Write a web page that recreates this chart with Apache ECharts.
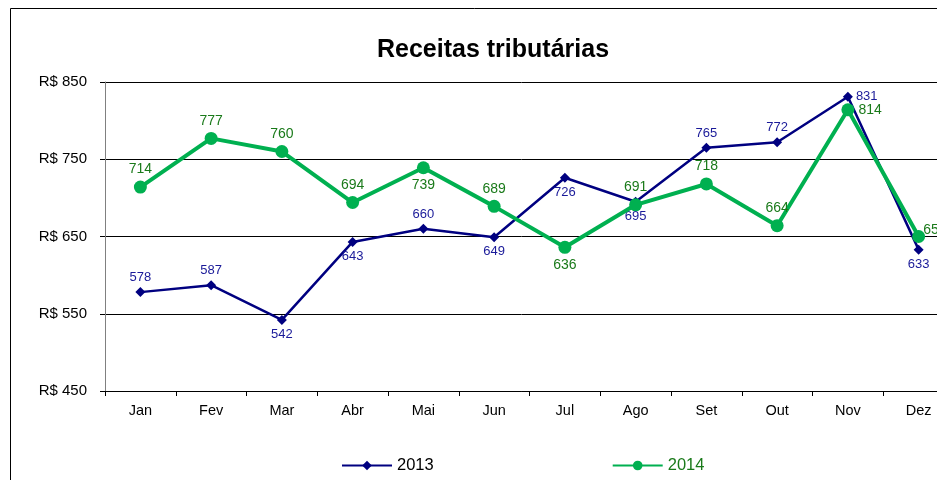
<!DOCTYPE html>
<html>
<head>
<meta charset="utf-8">
<script src="https://cdn.jsdelivr.net/npm/echarts@6/dist/echarts.min.js"></script>
<style>
  html, body { margin: 0; padding: 0; background: #fff; }
  #chart { width: 937px; height: 480px; }
</style>
</head>
<body>
<div id="chart"></div>
<script>
var months = ['Jan', 'Fev', 'Mar', 'Abr', 'Mai', 'Jun', 'Jul', 'Ago', 'Set', 'Out', 'Nov', 'Dez'];
var values2013 = [578, 587, 542, 643, 660, 649, 726, 695, 765, 772, 831, 633];
var values2014 = [714, 777, 760, 694, 739, 689, 636, 691, 718, 664, 814, 650];
var yTicks = [450, 550, 650, 750, 850];

// where each point's label sits
var pos2013 = ['top', 'top', 'bottom', 'bottom', 'top', 'bottom', 'bottom', 'bottom', 'top', 'top', 'right', 'bottom'];
var pos2014 = ['top', 'top', 'top', 'top', 'bottom', 'top', 'bottom', 'top', 'top', 'top', 'right', 'right'];

function withLabels(vals, pos) {
    return vals.map(function (v, i) {
        return { value: v, label: { position: pos[i] } };
    });
}

var data2014 = withLabels(values2014, pos2014);
// Dez label hugs the marker (gets cut at the edge)
data2014[11].label.distance = -2;
data2014[11].label.offset = [0, -6];

var myChart = echarts.init(document.getElementById('chart'));
var option = {
    animation: false,
    title: {
        text: 'Receitas tributárias',
        left: 372,
        top: 33,
        textStyle: {
            fontFamily: 'Liberation Sans',
            fontSize: 25,
            fontWeight: 'bold',
            color: '#000'
        }
    },
    graphic: [{
        type: 'rect',
        shape: { x: 10.5, y: 8.5, width: 1000, height: 1000 },
        style: { fill: 'none', stroke: '#000', lineWidth: 1 },
        silent: true
    }],
    legend: {
        left: 336,
        top: 452,
        itemWidth: 50,
        itemHeight: 12,
        itemGap: 178,
        textStyle: { fontFamily: 'Liberation Sans', fontSize: 16.5, color: '#000' },
        data: [
            { name: '2013', textStyle: { color: '#000' } },
            { name: '2014', textStyle: { color: '#1a7a1a' } }
        ]
    },
    grid: {
        left: 105,
        width: 849,
        top: 82,
        bottom: 89,
        outerBoundsMode: 'none',
        containLabel: false
    },
    xAxis: {
        type: 'category',
        data: months,
        boundaryGap: true,
        axisLine: { lineStyle: { color: '#000', width: 1 } },
        axisTick: { show: true, length: 5, inside: false, lineStyle: { color: '#000' } },
        axisLabel: { color: '#000', fontFamily: 'Liberation Sans', fontSize: 14.5, margin: 12 }
    },
    yAxis: {
        type: 'value',
        min: yTicks[0],
        max: yTicks[yTicks.length - 1],
        interval: 100,
        axisLine: { show: true, lineStyle: { color: '#808080', width: 1 } },
        axisTick: { show: true, length: 5, lineStyle: { color: '#000' } },
        axisLabel: {
            color: '#000',
            fontFamily: 'Liberation Sans',
            fontSize: 15,
            margin: 18,
            formatter: function (v) { return 'R$ ' + v; }
        },
        splitLine: { lineStyle: { color: '#000', width: 1 } }
    },
    series: [
        {
            name: '2013',
            type: 'line',
            data: withLabels(values2013, pos2013),
            color: '#000080',
            symbol: 'diamond',
            symbolSize: 10,
            lineStyle: { width: 2.5, color: '#000080' },
            itemStyle: { color: '#000080' },
            label: {
                show: true,
                color: '#1a1a99',
                fontFamily: 'Liberation Sans',
                fontSize: 13,
                distance: 3
            },
            z: 2
        },
        {
            name: '2014',
            type: 'line',
            data: data2014,
            color: '#00b050',
            symbol: 'circle',
            symbolSize: 13,
            lineStyle: { width: 4, color: '#00b050' },
            itemStyle: { color: '#00b050' },
            label: {
                show: true,
                color: '#1a7a1a',
                fontFamily: 'Liberation Sans',
                fontSize: 14,
                distance: 4
            },
            z: 3
        }
    ]
};
myChart.setOption(option);
</script>
</body>
</html>
